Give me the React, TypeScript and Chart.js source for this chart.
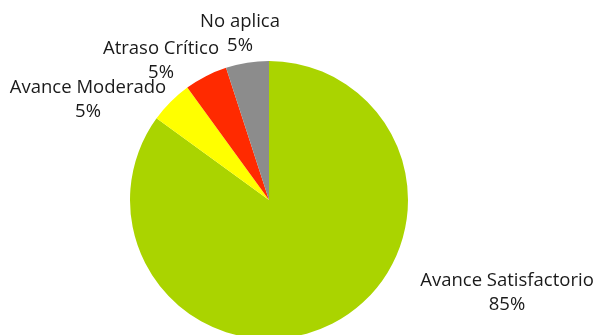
import React, { useEffect, useRef } from "react";
import { Chart, registerables } from "chart.js";

Chart.register(...registerables);

const categories = ["Avance Satisfactorio", "Avance Moderado", "Atraso Crítico", "No aplica"];
const values = [85, 5, 5, 5];
const percentLabels = ["85%", "5%", "5%", "5%"];
const colors = ["#AAD400", "#FFFF00", "#FF2A00", "#8C8C8C"];

// label centres relative to pie centre (layout only)
const labelOffsets = [
  [238, 81],
  [-181, -112],
  [-108, -151],
  [-29, -178],
];

const labelPlugin = {
  id: "pieLabels",
  afterDraw(chart: any) {
    const ctx = chart.ctx;
    const meta = chart.getDatasetMeta(0);
    const arc0 = meta.data[0];
    if (!arc0) return;
    const cx = arc0.x;
    const cy = arc0.y;
    ctx.save();
    ctx.font = '18.5px "Open Sans"';
    ctx.fillStyle = "#1a1a1a";
    ctx.textAlign = "center";
    ctx.textBaseline = "middle";
    categories.forEach((c, i) => {
      const [dx, dy] = labelOffsets[i];
      ctx.fillText(c, cx + dx, cy + dy);
      ctx.fillText(percentLabels[i], cx + dx, cy + dy + 23.5);
    });
    ctx.restore();
  },
};

export default function App() {
  const ref = useRef<HTMLCanvasElement>(null);
  useEffect(() => {
    if (!ref.current) return;
    const chart = new Chart(ref.current, {
      type: "pie",
      data: {
        labels: categories,
        datasets: [
          {
            data: values,
            backgroundColor: colors,
            borderWidth: 0,
          },
        ],
      },
      options: {
        responsive: false,
        animation: false,
        layout: { padding: { left: 130, right: 190, top: 61, bottom: 2 } },
        plugins: {
          legend: { display: false },
          tooltip: { enabled: false },
        },
      },
      plugins: [labelPlugin],
    });
    return () => chart.destroy();
  }, []);
  return (
    <div
      style={{
        position: "fixed",
        left: 0,
        top: 0,
        width: 598,
        height: 335,
        overflow: "hidden",
        background: "#fff",
      }}
    >
      <canvas ref={ref} width={598} height={341} style={{ display: "block" }} />
    </div>
  );
}
